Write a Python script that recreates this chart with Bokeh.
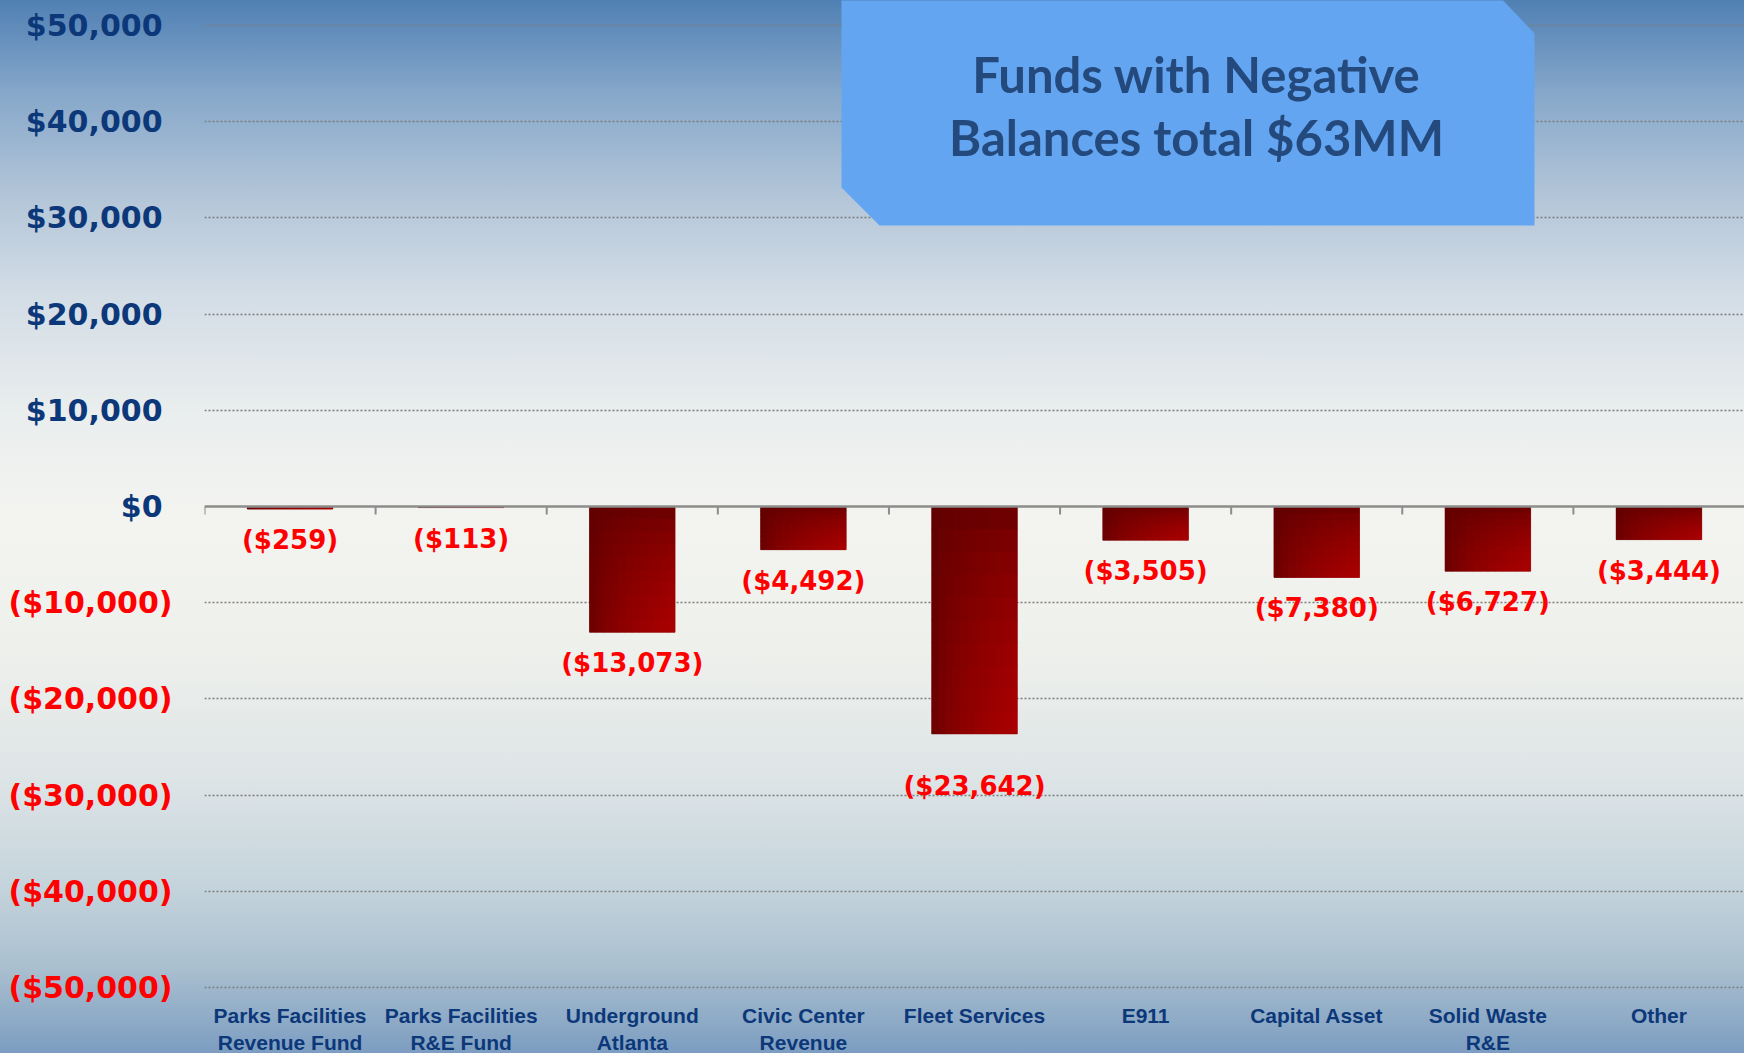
from bokeh.plotting import figure
from bokeh.layouts import row
from bokeh.models import (ColumnDataSource, Range1d, FactorRange, FixedTicker, Grid, Span,
                          Label, PolyAnnotation)
from bokeh.transform import dodge
from bokeh.core.properties import value
from bokeh.embed import file_html
from bokeh.resources import INLINE

# ---------------- data ----------------
categories = ["Parks Facilities Revenue Fund", "Parks Facilities R&E Fund", "Underground Atlanta",
              "Civic Center Revenue", "Fleet Services", "E911", "Capital Asset",
              "Solid Waste R&E", "Other"]
label_line1 = ["Parks Facilities", "Parks Facilities", "Underground", "Civic Center",
               "Fleet Services", "E911", "Capital Asset", "Solid Waste", "Other"]
label_line2 = ["Revenue Fund", "R&E Fund", "Atlanta", "Revenue", "", "", "", "R&E", ""]
balances = [-259, -113, -13073, -4492, -23642, -3505, -7380, -6727, -3444]
y_ticks = [50000, 40000, 30000, 20000, 10000, 0, -10000, -20000, -30000, -40000, -50000]
title_text = "Funds with Negative\nBalances total $63MM"

# label vertical offsets (px below bar end) - style, not data
label_dy = [31, 31, 31, 31, 52, 31, 31, 31, 31]


def money(v):
    return "(${:,})".format(abs(v)) if v < 0 else "${:,}".format(v)


# ---------------- layout constants ----------------
W, H = 1744, 1053
LEFT = 204                 # width of the label column
TOP, BOTTOM = 25, 987      # pixel rows of +50,000 and -50,000
NAVY = "#0c387a"
RED = "#ff0000"
GRADIENT = ("linear-gradient(to bottom, #5080b4 0%, #87a8ca 9%, #b2c5d8 18.5%, "
            "#d3dde6 28%, #eaeeee 39.5%, #f3f4f0 49%, #eef0ec 62%, #dde4e6 74%, "
            "#c5d4dc 84%, #a9bfcf 92%, #7c9dc1 100%)")

upp = 100000 / (BOTTOM - TOP)     # data units per pixel
y_range = Range1d(-50000 - (H - BOTTOM) * upp, 50000 + TOP * upp)

# ---------------- main plot ----------------
p = figure(width=W - LEFT, height=H, x_range=FactorRange(*categories), y_range=y_range,
           output_backend="svg", toolbar_location=None, x_axis_location=None,
           y_axis_location=None, min_border=0)
p.background_fill_alpha = 0
p.border_fill_alpha = 0
p.outline_line_color = None
p.grid.visible = False
p.styles = {"background": GRADIENT}

grid = Grid(dimension=1, ticker=FixedTicker(ticks=[t for t in y_ticks if t != 0]),
            grid_line_color="#7c7c7c", grid_line_dash="2 2", grid_line_width=1.3)
p.add_layout(grid)

src = ColumnDataSource(dict(cat=categories, val=balances,
                            label=[money(v) for v in balances], dy=label_dy))
p.vbar(x="cat", top=0, bottom="val", width=0.5, source=src, fill_color="#7a0000", line_color=None)

# gradient overlay slices of each bar
N, M = 12, 10
c0 = (94, 0, 0)
c1 = (172, 0, 0)
for k in range(N):
    u = (k + 0.5) / N
    cats, tops, bots, cols = [], [], [], []
    for cat, v in zip(categories, balances):
        for m in range(M):
            w = (m + 0.5) / M
            t = (u * w) ** 0.5
            col = "#%02x%02x%02x" % tuple(int(round(a + (b - a) * t)) for a, b in zip(c0, c1))
            cats.append(cat)
            tops.append(v * m / M)
            bots.append(v * (m + 1) / M)
            cols.append(col)
    s = ColumnDataSource(dict(cat=cats, top=tops, bottom=bots, color=cols))
    p.vbar(x=dodge("cat", -0.25 + (k + 0.5) * 0.5 / N, range=p.x_range), width=0.5 / N,
           top="top", bottom="bottom", source=s, fill_color="color", line_color="color",
           line_width=0.6)

# zero axis line with category-boundary ticks
tick_src = ColumnDataSource(dict(cat=categories))
p.segment(x0=dodge("cat", -0.5, range=p.x_range), x1=dodge("cat", -0.5, range=p.x_range),
          y0=0, y1=-8 * upp, source=tick_src, line_color="#8c8c8c", line_width=2)
p.add_layout(Span(location=0, dimension="width", line_color="#8c8c8c", line_width=2.5))

# data labels
p.text(x="cat", y="val", text="label", source=src, text_align="center", text_baseline="middle",
       y_offset="dy", text_color=RED, text_font=value("DejaVu Sans"), text_font_style="bold",
       text_font_size="26px")

# category labels (two lines) under the -50,000 line
cat_src = ColumnDataSource(dict(cat=categories, l1=label_line1, l2=label_line2,
                                y=[y_ticks[-1]] * len(categories)))
for col, off in (("l1", 28), ("l2", 55)):
    p.text(x="cat", y="y", text=col, source=cat_src, text_align="center",
           text_baseline="middle", y_offset=off, text_color=NAVY,
           text_font=value("Liberation Sans"), text_font_style="bold", text_font_size="21px")

# title callout box (screen units relative to the frame)
bx_page = [841, 1497, 1534, 1534, 879, 841]
by_page = [-6, -6, 33, 225, 225, 187]
p.add_layout(PolyAnnotation(xs=[x - LEFT for x in bx_page], ys=[H - y for y in by_page],
                            xs_units="screen", ys_units="screen", fill_color="#63a5f1",
                            fill_alpha=1, line_alpha=0))
p.add_layout(Label(x=1196 - LEFT, y=H - 105, x_units="screen", y_units="screen", text=title_text,
                   text_align="center", text_baseline="middle", text_font="Lato",
                   text_font_style="bold", text_font_size="49px", text_color="#24497c",
                   text_line_height=1.09))

# ---------------- value-axis label column ----------------
lf = figure(width=LEFT, height=H, x_range=Range1d(0, LEFT), y_range=y_range,
            output_backend="svg", toolbar_location=None, x_axis_location=None,
            y_axis_location=None, min_border=0)
lf.background_fill_alpha = 0
lf.border_fill_alpha = 0
lf.outline_line_color = None
lf.grid.visible = False
lf.styles = {"background": GRADIENT}
ylab = ColumnDataSource(dict(
    y=y_ticks,
    x=[172 if t < 0 else 162 for t in y_ticks],
    text=[money(t) for t in y_ticks],
    color=[RED if t < 0 else NAVY for t in y_ticks]))
lf.text(x="x", y="y", text="text", source=ylab, text_color="color", text_align="right",
        text_baseline="middle", text_font=value("DejaVu Sans"), text_font_style="bold",
        text_font_size="30px")

layout = row(lf, p, spacing=0)
open("out.html", "w").write(file_html(layout, INLINE))
